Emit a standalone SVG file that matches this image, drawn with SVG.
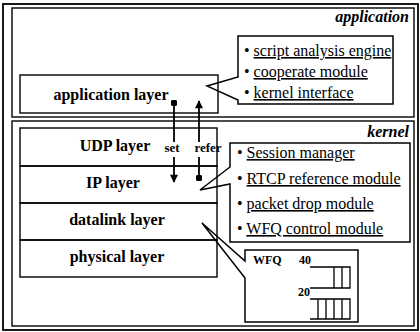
<svg xmlns="http://www.w3.org/2000/svg" width="420" height="332" viewBox="0 0 420 332">
<defs>
<style>
.frame{fill:none;stroke:#000;stroke-width:1.8}
.box{fill:none;stroke:#000;stroke-width:1.4}
.call{fill:none;stroke:#000;stroke-width:1.5;stroke-linejoin:miter}
.lbl{font-family:"Liberation Serif","DejaVu Serif",serif;font-weight:bold;font-size:16px;fill:#000}
.title{font-family:"Liberation Serif","DejaVu Serif",serif;font-weight:bold;font-style:italic;font-size:16px;fill:#000;text-anchor:end}
.item{font-family:"Liberation Serif","DejaVu Serif",serif;font-size:16px;fill:#000}
.small{font-family:"Liberation Serif","DejaVu Serif",serif;font-weight:bold;font-size:13px;fill:#000}
.tiny{font-family:"Liberation Serif","DejaVu Serif",serif;font-weight:bold;font-size:12px;fill:#000}
.u{text-decoration:underline}
.conn{stroke:#000;stroke-width:1.8;fill:none}
.q{stroke:#000;stroke-width:1.3;fill:none}
</style>
<marker id="arrow" viewBox="0 0 10 10" refX="9" refY="5" markerWidth="5" markerHeight="4.5" orient="auto">
<path d="M0,0 L10,5 L0,10 Z" fill="#000"/>
</marker>
<marker id="dot" viewBox="0 0 10 10" refX="5" refY="5" markerWidth="3.8" markerHeight="3.8" orient="auto">
<circle cx="5" cy="5" r="5" fill="#000"/>
</marker>
</defs>
<rect width="420" height="332" fill="#fff"/>
<g id="outer-frame"><rect class="frame" x="3" y="4" width="415" height="326"/></g>

<g id="application-area">
<rect class="box" x="12" y="8" width="402" height="109"/>
<text class="title" x="409" y="22">application</text>
</g>
<g id="application-layer">
<rect class="box" x="20" y="75" width="198" height="38"/>
<text class="lbl" x="111" y="100" text-anchor="middle">application layer</text>
</g>
<g id="application-callout">
<path class="call" d="M238,36 H393 V104 H238 V100 L207,86 L238,77 Z"/>
<text class="item" x="244" y="56">• <tspan class="u">script analysis engine</tspan></text>
<text class="item" x="244" y="77">• <tspan class="u">cooperate module</tspan></text>
<text class="item" x="244" y="98">• <tspan class="u">kernel interface</tspan></text>
</g>

<g id="kernel-area">
<rect class="box" x="12" y="121" width="402" height="205"/>
<text class="title" x="409" y="137">kernel</text>
</g>
<g id="udp-layer">
<rect class="box" x="20" y="128" width="197" height="38"/>
<text class="lbl" x="115" y="151" text-anchor="middle">UDP layer</text>
</g>
<g id="ip-layer">
<rect class="box" x="20" y="166" width="197" height="37"/>
<text class="lbl" x="113" y="188" text-anchor="middle">IP layer</text>
</g>
<g id="datalink-layer">
<rect class="box" x="20" y="203" width="197" height="37"/>
<text class="lbl" x="117" y="225" text-anchor="middle">datalink layer</text>
</g>
<g id="physical-layer">
<rect class="box" x="20" y="240" width="197" height="37"/>
<text class="lbl" x="117" y="262" text-anchor="middle">physical layer</text>
</g>
<g id="kernel-callout">
<path class="call" d="M230,143 H410 V242 H230 V184 L200,190 L230,167 Z"/>
<text class="item" x="237" y="158">• <tspan class="u">Session manager</tspan></text>
<text class="item" x="237" y="184">• <tspan class="u">RTCP reference module</tspan></text>
<text class="item" x="237" y="209">• <tspan class="u">packet drop module</tspan></text>
<text class="item" x="237" y="234">• <tspan class="u">WFQ control module</tspan></text>
</g>
<g id="wfq-callout">
<path class="call" d="M245,250 H358 V322 H245 V278 L202,223 L245,261 Z"/>
<text class="tiny" x="253" y="264">WFQ</text>
<text class="tiny" x="299" y="264">40</text>
<path class="q" d="M310,267 H350 V288 H310 M334,267 V288 M342,267 V288"/>
<text class="tiny" x="298" y="296">20</text>
<path class="q" d="M310,299 H350 V319 H310 M318,299 V319 M326,299 V319 M334,299 V319 M342,299 V319"/>
</g>

<g id="connectors">
<line class="conn" x1="174" y1="103" x2="174" y2="142" marker-start="url(#dot)"/>
<line class="conn" x1="174" y1="157" x2="174" y2="182" marker-end="url(#arrow)"/>
<text class="small" x="172" y="152" text-anchor="middle">set</text>
<line class="conn" x1="199" y1="142" x2="199" y2="101" marker-end="url(#arrow)"/>
<line class="conn" x1="199" y1="157" x2="199" y2="178" marker-end="url(#dot)"/>
<text class="small" x="208" y="152" text-anchor="middle">refer</text>
</g>
</svg>
